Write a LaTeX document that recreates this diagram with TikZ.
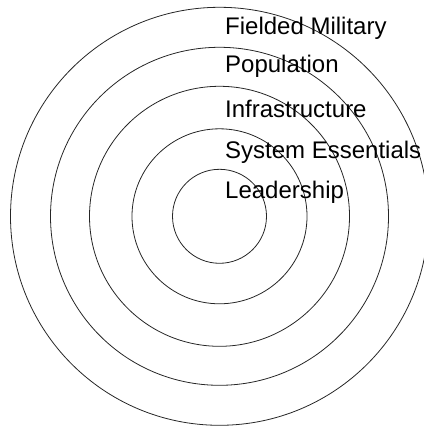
\documentclass[tikz,border=0pt]{standalone}
\usepackage{fontspec}
\setmainfont{Liberation Sans}
\begin{document}
\begin{tikzpicture}[x=1pt,y=-1pt,
  ring/.style={draw=black!85,line width=0.8pt,circle,inner sep=0pt,minimum size=#1},
  lbl/.style={anchor=base west,inner sep=0pt,font=\fontsize{24}{28}\selectfont,text=black}]
\useasboundingbox (0,0) rectangle (423,427);
\coordinate (c) at (219.5,216.3);
\node[ring=418pt] (r5) at (c) {};
\node[ring=338pt] (r4) at (c) {};
\node[ring=260pt] (r3) at (c) {};
\node[ring=175pt] (r2) at (c) {};
\node[ring=94pt] (r1) at (c) {};
\node[lbl] (t5) at (225,35) {Fielded Military};
\node[lbl] (t4) at (225,72.5) {Population};
\node[lbl] (t3) at (225,117.5) {Infrastructure};
\node[lbl] (t2) at (225,158.3) {System Essentials};
\node[lbl] (t1) at (225,199) {Leadership};
\end{tikzpicture}
\end{document}
